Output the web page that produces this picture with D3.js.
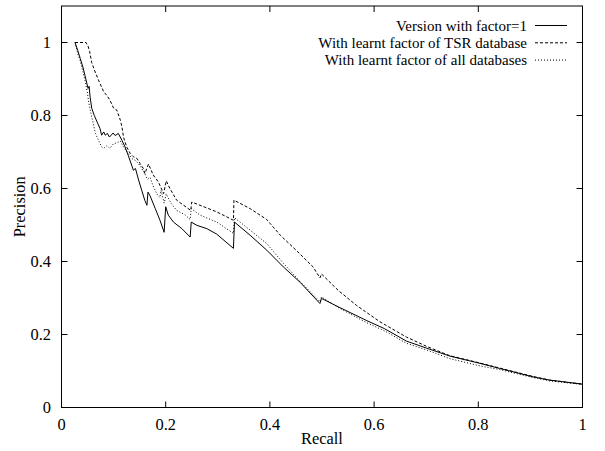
<!DOCTYPE html>
<html>
<head>
<meta charset="utf-8">
<script src="https://cdn.jsdelivr.net/npm/d3@7"></script>
<style>
  body { margin: 0; background: #fff; }
  svg { display: block; }
  text { font-family: "Liberation Serif", "Times New Roman", serif; font-size: 16.4px; fill: #000; }
  text.legend { font-size: 15px; }
</style>
</head>
<body>
<div id="chart"></div>
<script>
// recall / precision points
var factorOne = [
  [0.026,1.0],[0.031,0.979],[0.036,0.956],[0.041,0.933],[0.045,0.910],[0.051,0.874],[0.053,0.88],
  [0.055,0.85],[0.058,0.82],[0.063,0.80],[0.069,0.78],[0.074,0.764],[0.077,0.746],[0.081,0.755],
  [0.084,0.746],[0.088,0.751],[0.092,0.741],[0.099,0.752],[0.103,0.745],[0.109,0.751],[0.116,0.732],
  [0.122,0.714],[0.128,0.691],[0.138,0.650],[0.142,0.655],[0.148,0.623],[0.154,0.595],[0.160,0.567],
  [0.164,0.554],[0.166,0.59],[0.170,0.58],[0.180,0.545],[0.189,0.513],[0.197,0.48],[0.200,0.55],
  [0.205,0.527],[0.215,0.508],[0.231,0.490],[0.247,0.467],[0.249,0.508],[0.260,0.499],[0.279,0.490],
  [0.298,0.475],[0.330,0.436],[0.332,0.508],[0.362,0.472],[0.394,0.431],[0.426,0.385],[0.458,0.343],
  [0.496,0.285],[0.499,0.299],[0.531,0.276],[0.586,0.238],[0.62,0.216],[0.662,0.182],[0.70,0.163],
  [0.745,0.141],[0.803,0.121],[0.841,0.107],[0.905,0.084],[0.937,0.075],[1.0,0.064]
];
var factorTSR = [
  [0.026,1.0],[0.047,1.0],[0.051,0.99],[0.054,0.975],[0.058,0.945],[0.063,0.925],[0.071,0.897],
  [0.081,0.865],[0.087,0.855],[0.093,0.842],[0.100,0.82],[0.106,0.815],[0.113,0.787],[0.116,0.769],
  [0.119,0.741],[0.125,0.714],[0.132,0.696],[0.138,0.687],[0.145,0.682],[0.151,0.668],[0.157,0.655],
  [0.160,0.641],[0.167,0.667],[0.176,0.637],[0.186,0.618],[0.196,0.586],[0.201,0.621],[0.208,0.6],
  [0.221,0.568],[0.248,0.54],[0.250,0.563],[0.298,0.536],[0.330,0.513],[0.331,0.568],[0.362,0.545],
  [0.394,0.515],[0.40,0.505],[0.42,0.472],[0.451,0.43],[0.483,0.385],[0.496,0.355],[0.499,0.366],
  [0.531,0.321],[0.566,0.28],[0.611,0.235],[0.662,0.193],[0.70,0.168],[0.745,0.142],[0.803,0.122],
  [0.841,0.108],[0.905,0.085],[0.937,0.075],[1.0,0.064]
];
var factorAll = [
  [0.026,1.0],[0.031,0.97],[0.036,0.95],[0.041,0.92],[0.045,0.897],[0.050,0.86],[0.052,0.837],
  [0.058,0.796],[0.061,0.778],[0.065,0.751],[0.071,0.732],[0.077,0.714],[0.081,0.710],[0.087,0.717],
  [0.093,0.710],[0.100,0.723],[0.106,0.725],[0.113,0.73],[0.119,0.714],[0.128,0.696],[0.135,0.682],
  [0.141,0.678],[0.148,0.668],[0.154,0.655],[0.160,0.64],[0.165,0.625],[0.170,0.63],[0.175,0.61],
  [0.183,0.585],[0.189,0.575],[0.191,0.595],[0.197,0.56],[0.201,0.585],[0.210,0.56],[0.221,0.54],
  [0.237,0.528],[0.247,0.515],[0.249,0.545],[0.266,0.527],[0.298,0.508],[0.330,0.477],[0.332,0.52],
  [0.362,0.486],[0.394,0.449],[0.426,0.395],[0.458,0.345],[0.496,0.29],[0.499,0.303],[0.531,0.274],
  [0.586,0.232],[0.62,0.21],[0.662,0.176],[0.70,0.158],[0.745,0.134],[0.803,0.114],[0.841,0.104],
  [0.905,0.082],[0.937,0.073],[1.0,0.063]
];
var seriesNames = ["Version with factor=1", "With learnt factor of TSR database", "With learnt factor of all databases"];
var dashStyles = [null, "3,2", "1,2"];
var xTicks = [0, 0.2, 0.4, 0.6, 0.8, 1];
var yTicks = [0, 0.2, 0.4, 0.6, 0.8, 1];

var width = 605, height = 451;
var plotLeft = 61.5, plotRight = 582.5, plotTop = 6, plotBottom = 407.5;

var svg = d3.select("#chart").append("svg")
  .attr("width", width)
  .attr("height", height);

var x = d3.scaleLinear().domain([0, 1]).range([plotLeft, plotRight]);
var y = d3.scaleLinear().domain([0, 1.1]).range([plotBottom, plotTop]);

// ticks, gnuplot style: inward and mirrored
var tickLen = 6;
var g = svg.append("g").attr("stroke", "#000").attr("stroke-width", 1);
xTicks.forEach(function(t) {
  g.append("line").attr("x1", x(t)).attr("x2", x(t)).attr("y1", plotBottom).attr("y2", plotBottom - tickLen);
  g.append("line").attr("x1", x(t)).attr("x2", x(t)).attr("y1", plotTop).attr("y2", plotTop + tickLen);
});
yTicks.forEach(function(t) {
  g.append("line").attr("x1", plotLeft).attr("x2", plotLeft + tickLen).attr("y1", y(t)).attr("y2", y(t));
  g.append("line").attr("x1", plotRight).attr("x2", plotRight - tickLen).attr("y1", y(t)).attr("y2", y(t));
});

svg.selectAll(".xlab").data(xTicks).enter().append("text")
  .attr("x", function(d) { return x(d); })
  .attr("y", 430)
  .attr("text-anchor", "middle")
  .text(function(d) { return d3.format("~g")(d); });

svg.selectAll(".ylab").data(yTicks).enter().append("text")
  .attr("x", 51)
  .attr("y", function(d) { return y(d) + 5.5; })
  .attr("text-anchor", "end")
  .text(function(d) { return d3.format("~g")(d); });

svg.append("text")
  .attr("x", (plotLeft + plotRight) / 2)
  .attr("y", 444)
  .attr("text-anchor", "middle")
  .text("Recall");

svg.append("text")
  .attr("transform", "translate(25," + ((plotTop + plotBottom) / 2) + ") rotate(-90)")
  .attr("text-anchor", "middle")
  .text("Precision");

var line = d3.line()
  .x(function(d) { return x(d[0]); })
  .y(function(d) { return y(d[1]); });

[factorOne, factorTSR, factorAll].forEach(function(s, i) {
  svg.append("path")
    .datum(s)
    .attr("d", line)
    .attr("fill", "none")
    .attr("stroke", "#000")
    .attr("stroke-width", 1)
    .attr("stroke-dasharray", dashStyles[i]);
});

// legend
seriesNames.forEach(function(name, i) {
  var ly = 25.5 + i * 17.3;
  svg.append("text")
    .attr("class", "legend")
    .attr("x", 527)
    .attr("y", ly + 5)
    .attr("text-anchor", "end")
    .text(name);
  svg.append("line")
    .attr("x1", 535).attr("x2", 567)
    .attr("y1", ly).attr("y2", ly)
    .attr("stroke", "#000")
    .attr("stroke-width", 1)
    .attr("stroke-dasharray", dashStyles[i]);
});

svg.append("rect")
  .attr("x", plotLeft).attr("y", plotTop)
  .attr("width", plotRight - plotLeft).attr("height", plotBottom - plotTop)
  .attr("fill", "none")
  .attr("stroke", "#000")
  .attr("stroke-width", 1);
</script>
</body>
</html>
